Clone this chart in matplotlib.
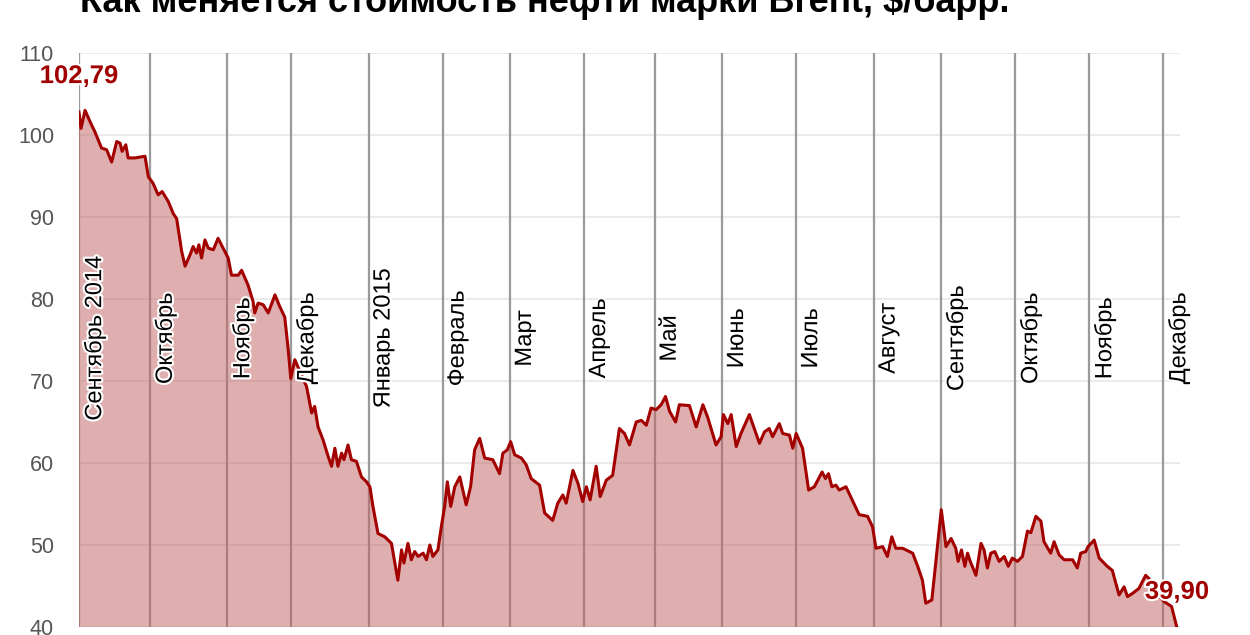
import matplotlib
matplotlib.use('Agg')
import matplotlib.pyplot as plt
import matplotlib.patheffects as pe

plt.rcParams['font.family'] = ['Liberation Sans', 'DejaVu Sans']

# Brent price, $/barrel; x = trading days since 1 Sep 2014
days = [0, 0.6, 1.8, 3.3, 4.7, 6.7, 8.2, 9.7, 11.2, 12.2, 12.8, 13.9, 14.6, 16.6, 19.6,
        20.6, 22.0, 23.5, 24.7, 26.5, 28.0, 29.0, 30.5, 31.5, 33.0, 33.9, 34.9, 35.6, 36.4,
        37.4, 38.4, 39.9, 41.3, 42.8, 44.3, 45.3, 47.3, 48.3, 50.2, 51.7, 52.2, 53.2, 54.7,
        56.2, 58.2, 59.6, 61.1, 62.1, 62.9, 64.1, 67.6, 69.1, 70.0, 71.0, 72.5, 74.0, 75.0,
        76.0, 76.9, 78.0, 78.7, 79.9, 80.9, 82.4, 83.9, 85.4, 86.4, 87.3, 88.8, 90.8, 92.8,
        93.8, 94.7, 95.8, 96.5, 97.7, 98.7, 99.7, 100.7, 102.2, 103.2, 104.2, 105.1, 106.6,
        107.6, 108.6, 109.4, 110.4, 111.6, 113.1, 115.0, 116.3, 117.5, 119.0, 120.5, 122.9,
        124.9, 125.9, 127.2, 128.2, 129.4, 131.4, 132.8, 134.3, 136.8, 138.3, 140.7, 142.2,
        143.7, 144.7, 146.7, 148.2, 149.6, 150.7, 151.8, 153.6, 154.8, 156.6, 158.5, 160.5,
        162.0, 163.5, 165.5, 167.0, 168.5, 169.9, 171.4, 172.9, 174.2, 175.4, 177.2, 178.3,
        181.3, 183.3, 185.3, 186.7, 189.2, 190.7, 191.4, 192.7, 193.7, 195.2, 196.6, 199.1,
        202.1, 203.6, 205.0, 206.0, 208.0, 209.0, 211.0, 212.0, 213.0, 214.9, 216.7, 218.4,
        220.7, 221.7, 222.6, 223.6, 224.8, 225.8, 227.8, 231.7, 234.2, 235.7, 236.7, 238.7,
        240.1, 241.4, 242.6, 244.6, 247.6, 249.1, 250.5, 251.5, 253.3, 256.1, 257.5, 259.0,
        260.4, 261.1, 262.1, 263.1, 263.9, 264.7, 266.4, 267.9, 268.8, 269.8, 270.8, 272.0,
        273.3, 274.8, 276.0, 277.2, 278.7, 280.2, 281.7, 282.7, 284.2, 285.7, 286.6, 288.6,
        289.6, 291.1, 292.6, 295.1, 296.5, 297.5, 299.0, 299.7, 301.5, 303.0, 305.4, 306.9,
        308.9, 310.4, 311.4, 312.9, 314.8, 316.8, 317.8, 319.3, 322.3, 324.5, 326.1]
prices = [102.79, 100.8, 103.0, 101.6, 100.4, 98.4, 98.2, 96.7, 99.2, 99.0, 98.0, 98.8, 97.2, 97.2, 97.4,
          94.9, 94.1, 92.7, 93.1, 91.9, 90.4, 89.8, 85.8, 84.0, 85.4, 86.4, 85.6, 86.6, 85.0,
          87.2, 86.2, 86.0, 87.4, 86.2, 85.0, 82.9, 82.9, 83.5, 81.7, 79.7, 78.3, 79.5, 79.3,
          78.3, 80.5, 79.1, 77.8, 74.0, 70.3, 72.6, 69.3, 66.1, 66.9, 64.4, 62.8, 60.8, 59.6,
          61.8, 59.6, 61.2, 60.4, 62.2, 60.4, 60.2, 58.3, 57.7, 57.1, 54.7, 51.4, 51.0, 50.2,
          47.8, 45.7, 49.4, 47.8, 50.2, 48.2, 49.2, 48.6, 49.0, 48.2, 50.0, 48.6, 49.4,
          52.2, 54.7, 57.7, 54.7, 57.1, 58.3, 54.9, 57.1, 61.6, 63.0, 60.6, 60.4,
          58.7, 61.2, 61.6, 62.6, 61.0, 60.6, 59.8, 58.1, 57.3, 53.9, 53.0, 55.1,
          56.1, 55.1, 59.1, 57.5, 55.3, 57.1, 55.5, 59.6, 55.9, 57.9, 58.5, 64.2,
          63.6, 62.2, 65.0, 65.2, 64.6, 66.7, 66.5, 67.1, 68.1, 66.3, 65.0, 67.1,
          67.0, 64.4, 67.1, 65.6, 62.2, 63.2, 65.9, 64.8, 65.9, 62.0, 63.6, 65.9,
          62.4, 63.8, 64.2, 63.2, 64.8, 63.6, 63.4, 61.8, 63.6, 61.8, 56.7, 57.1,
          58.9, 58.1, 58.7, 57.1, 57.3, 56.7, 57.1, 53.7, 53.5, 52.2, 49.6, 49.8,
          48.6, 51.0, 49.6, 49.6, 49.0, 47.4, 45.7, 42.9, 43.3, 54.3, 49.8, 50.8,
          49.6, 48.0, 49.4, 47.4, 49.0, 48.0, 46.3, 50.2, 49.4, 47.2, 49.0, 49.2,
          48.0, 48.6, 47.4, 48.4, 48.0, 48.6, 51.7, 51.5, 53.5, 52.9, 50.4, 49.0,
          50.4, 48.8, 48.2, 48.2, 47.2, 49.0, 49.2, 49.8, 50.6, 48.4, 47.4, 46.9,
          43.9, 44.9, 43.7, 44.1, 44.7, 46.3, 45.9, 44.5, 43.1, 42.5, 39.90]

month_starts = [0, 21, 44, 63, 86, 108, 128, 150, 171, 191, 213, 236, 256, 278, 300, 322]
month_labels = ['Сентябрь 2014', 'Октябрь', 'Ноябрь', 'Декабрь', 'Январь 2015', 'Февраль',
                'Март', 'Апрель', 'Май', 'Июнь', 'Июль', 'Август', 'Сентябрь', 'Октябрь',
                'Ноябрь', 'Декабрь']
y_ticks = [40, 50, 60, 70, 80, 90, 100, 110]

title = 'Как меняется стоимость нефти марки Brent, $/барр.'

fig = plt.figure(figsize=(12.5, 6.35), dpi=100)
ax = fig.add_axes([0.0632, 0.0126, 0.8808, 0.904])

ax.set_xlim(0, 327)
ax.set_ylim(40, 110)

# grid
for v in y_ticks:
    ax.axhline(v, color='#e8e8e8', lw=1.2, zorder=0)
ax.vlines(month_starts, 40, 110, color='#9a9a9a', lw=1.6, zorder=1)

# series
ax.fill_between(days, prices, 0, color='#c06060', alpha=0.5, lw=0, zorder=2)
ax.plot(days, prices, color='#a30000', lw=2.2, zorder=3)

halo = [pe.withStroke(linewidth=3, foreground='white')]
for d, lab in zip(month_starts, month_labels):
    ax.annotate(lab, xy=(d, 75.2), xytext=(4, 0), textcoords='offset pixels',
                rotation=90, ha='left', va='center', fontsize=17, color='black',
                path_effects=halo, zorder=4)

ax.annotate('102,79', xy=(days[0], prices[0]), xytext=(0, 36), textcoords='offset pixels',
            ha='center', va='center', fontsize=18.5, fontweight='bold', color='#a00000',
            path_effects=halo, zorder=5, annotation_clip=False)
ax.annotate('39,90', xy=(days[-1], prices[-1]), xytext=(0, 36), textcoords='offset pixels',
            ha='center', va='center', fontsize=18.5, fontweight='bold', color='#a00000',
            path_effects=halo, zorder=5, annotation_clip=False)

ax.set_yticks(y_ticks)
ax.set_yticklabels([str(v) for v in y_ticks], fontsize=15.5, color='#555555')
ax.tick_params(axis='y', length=0, pad=18)
ax.set_xticks([])
for s in ax.spines.values():
    s.set_visible(False)

fig.text(0.064, 0.981, title, fontsize=26, fontweight='bold', color='black',
         ha='left', va='baseline')

fig.savefig('out.png', dpi=100)
